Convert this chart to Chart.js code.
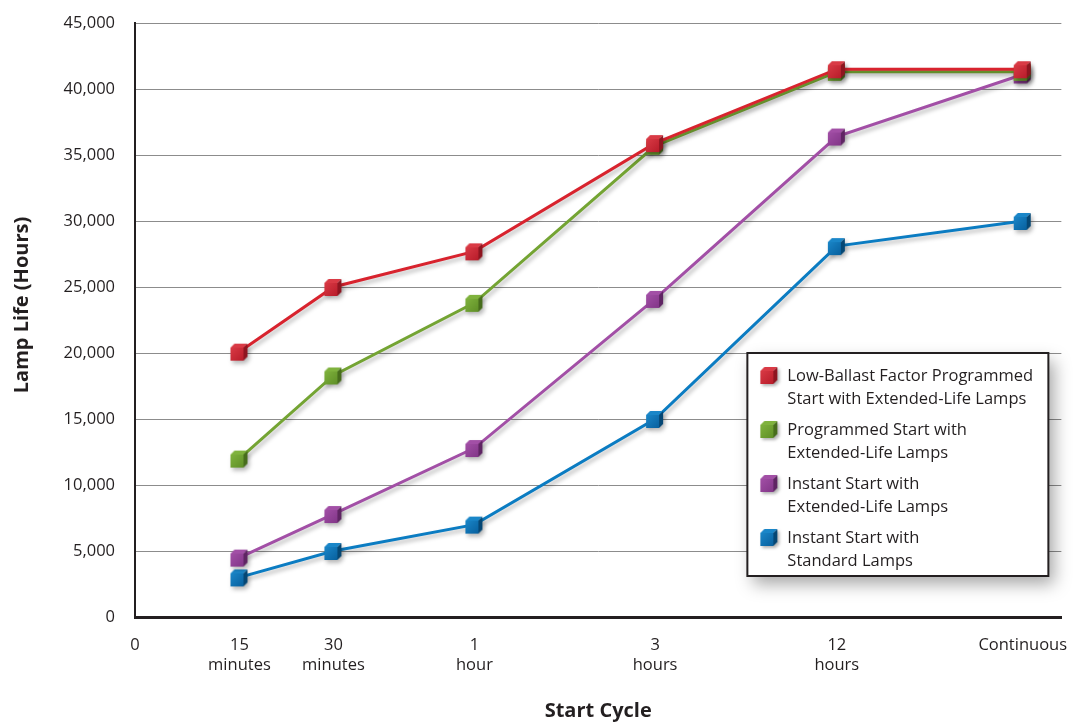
<!DOCTYPE html>
<html>
<head>
<meta charset="utf-8">
<script src="https://cdn.jsdelivr.net/npm/chart.js@4/dist/chart.umd.min.js"></script>
<style>
  html, body { margin: 0; padding: 0; background: #fff; }
  #wrap { width: 1086px; height: 723px; }
</style>
</head>
<body>
<div id="wrap"><canvas id="c" width="1086" height="723"></canvas></div>
<script>
// Start cycle categories (multi-line tick labels) and where each sits on the x axis
const cycleLabels = [['0'], ['15', 'minutes'], ['30', 'minutes'], ['1', 'hour'], ['3', 'hours'], ['12', 'hours'], ['Continuous']];
const cycleSpacing = [0, 1, 1.9, 3.25, 4.98, 6.72, 8.5];

// Legend text, already wrapped the way it is printed
const seriesNames = [
  ['Low-Ballast Factor Programmed', 'Start with Extended-Life Lamps'],
  ['Programmed Start with', 'Extended-Life Lamps'],
  ['Instant Start with', 'Extended-Life Lamps'],
  ['Instant Start with', 'Standard Lamps']
];

// Rated lamp life in hours for 15 min, 30 min, 1 h, 3 h, 12 h, continuous
const lowBallastProgrammed = [20100, 25000, 27700, 35900, 41500, 41500];
const programmedExtended   = [12000, 18300, 23800, 35700, 41300, 41300];
const instantExtended      = [4500, 7800, 12800, 24100, 36400, 41100];
const instantStandard      = [3000, 5000, 7000, 15000, 28100, 30000];

const yTicks = [0, 5000, 10000, 15000, 20000, 25000, 30000, 35000, 40000, 45000];

const FONT = '"Open Sans", Lato, sans-serif';
const INK = '#231f20';
const Y_TITLE = 'Lamp Life (Hours)';

// Little shaded cube used as the point marker
function makeCube(front, top, side) {
  const c = document.createElement('canvas');
  c.width = 22; c.height = 22;
  const g = c.getContext('2d');
  const s = 13, d = 4, fx = 2, fy = 3 + d;
  g.fillStyle = top;
  g.beginPath();
  g.moveTo(fx, fy); g.lineTo(fx + d, fy - d); g.lineTo(fx + d + s, fy - d); g.lineTo(fx + s, fy);
  g.closePath(); g.fill();
  g.fillStyle = side;
  g.beginPath();
  g.moveTo(fx + s, fy); g.lineTo(fx + s + d, fy - d); g.lineTo(fx + s + d, fy - d + s); g.lineTo(fx + s, fy + s);
  g.closePath(); g.fill();
  const grad = g.createLinearGradient(fx, fy, fx + s, fy + s);
  grad.addColorStop(0, top);
  grad.addColorStop(1, front);
  g.fillStyle = grad;
  g.fillRect(fx, fy, s, s);
  return c;
}

const styles = [
  { line: '#d8232e', cube: makeCube('#b81c2a', '#d93a45', '#8e1520') },
  { line: '#74a433', cube: makeCube('#5f8f27', '#7fb23d', '#476d1c') },
  { line: '#a24fa6', cube: makeCube('#823688', '#a24fa6', '#5f2563') },
  { line: '#0b7cc2', cube: makeCube('#08609e', '#1a86c8', '#054774') }
];

const seriesValues = [lowBallastProgrammed, programmedExtended, instantExtended, instantStandard];

const datasets = seriesValues.map((vals, i) => ({
  label: seriesNames[i].join(' '),
  data: vals.map((v, j) => ({ x: cycleSpacing[j + 1], y: v })),
  borderColor: styles[i].line,
  backgroundColor: styles[i].line,
  borderWidth: 3,
  pointStyle: styles[i].cube,
  pointRadius: 8,
  tension: 0
}));

// Soft drop shadow under lines and markers
const shadowPlugin = {
  id: 'shadow',
  beforeDatasetsDraw(chart) {
    const ctx = chart.ctx;
    ctx.save();
    ctx.shadowColor = 'rgba(0,0,0,0.28)';
    ctx.shadowBlur = 4;
    ctx.shadowOffsetX = 2;
    ctx.shadowOffsetY = 3;
  },
  afterDatasetsDraw(chart) {
    chart.ctx.restore();
  }
};

// Vertical axis title, set a little above the plot's middle
const yTitlePlugin = {
  id: 'yTitle',
  afterDraw(chart) {
    const ctx = chart.ctx;
    const a = chart.chartArea;
    ctx.save();
    ctx.translate(22, (a.top + a.bottom) / 2 - 15);
    ctx.rotate(-Math.PI / 2);
    ctx.font = 'bold 20px ' + FONT;
    ctx.fillStyle = INK;
    ctx.textAlign = 'center';
    ctx.textBaseline = 'middle';
    ctx.fillText(Y_TITLE, 0, 0);
    ctx.restore();
  }
};

// Boxed legend with two-line entries
const boxLegend = {
  id: 'boxLegend',
  afterDraw(chart) {
    const ctx = chart.ctx;
    const a = chart.chartArea;
    const w = 301, h = 223;
    const x = a.right - 314, y = chart.scales.y.getPixelForValue(20000);
    ctx.save();
    ctx.shadowColor = 'rgba(0,0,0,0.35)';
    ctx.shadowBlur = 16;
    ctx.shadowOffsetX = 6;
    ctx.shadowOffsetY = 8;
    ctx.fillStyle = '#fff';
    ctx.fillRect(x, y, w, h);
    ctx.shadowColor = 'transparent';
    ctx.lineWidth = 2;
    ctx.strokeStyle = INK;
    ctx.strokeRect(x, y, w, h);
    ctx.font = '16.5px ' + FONT;
    ctx.fillStyle = INK;
    ctx.textBaseline = 'middle';
    ctx.textAlign = 'left';
    seriesNames.forEach((lines, i) => {
      const ly = y + 23 + i * 54;
      ctx.save();
      ctx.shadowColor = 'rgba(0,0,0,0.3)';
      ctx.shadowBlur = 3;
      ctx.shadowOffsetX = 2;
      ctx.shadowOffsetY = 2;
      ctx.drawImage(styles[i].cube, x + 11, ly - 12);
      ctx.restore();
      lines.forEach((t, k) => ctx.fillText(t, x + 40, ly + k * 23));
    });
    ctx.restore();
  }
};

new Chart(document.getElementById('c'), {
  type: 'line',
  data: { datasets },
  plugins: [shadowPlugin, yTitlePlugin, boxLegend],
  options: {
    responsive: false,
    animation: false,
    layout: { padding: { top: 23, right: 23, bottom: 0, left: 0 } },
    plugins: { legend: { display: false }, tooltip: { enabled: false } },
    scales: {
      x: {
        type: 'linear',
        min: 0,
        max: 8.87,
        afterBuildTicks: s => { s.ticks = cycleSpacing.map(v => ({ value: v })); },
        afterFit: s => { s.height = 106; },
        grid: { display: false, drawTicks: false },
        border: { display: true, color: INK, width: 3 },
        ticks: {
          autoSkip: false,
          maxRotation: 0,
          padding: 18,
          color: INK,
          font: { family: FONT, size: 16.5, lineHeight: 1.22 },
          callback: (v, i) => cycleLabels[i]
        },
        title: {
          display: true,
          text: 'Start Cycle',
          color: INK,
          font: { family: FONT, size: 20, weight: 'bold' },
          padding: { top: 0, bottom: 0 }
        }
      },
      y: {
        min: 0,
        max: 45000,
        afterBuildTicks: s => { s.ticks = yTicks.map(v => ({ value: v })); },
        afterFit: s => { s.width = 135; s.paddingTop = 0; s.paddingBottom = 0; },
        grid: { color: '#8c8c8c', lineWidth: 1, drawTicks: false },
        border: { display: true, color: INK, width: 2 },
        ticks: {
          padding: 20,
          color: INK,
          font: { family: FONT, size: 16.5 },
          callback: v => v.toLocaleString('en-US')
        }
      }
    }
  }
});
</script>
</body>
</html>
